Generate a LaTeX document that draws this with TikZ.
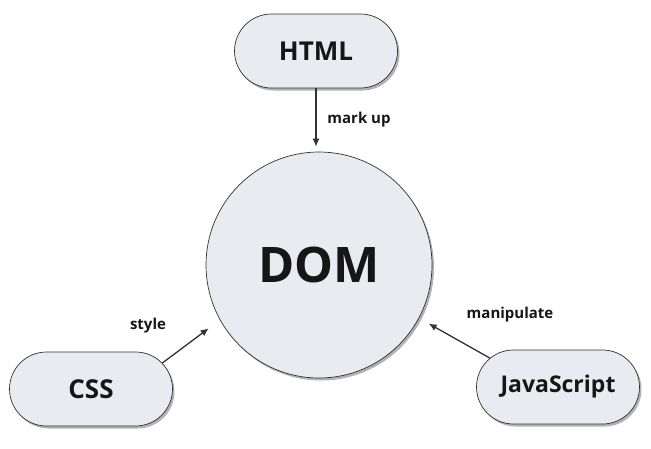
\documentclass[tikz,border=0pt]{standalone}
\usepackage{fontspec}
\setmainfont{Open Sans}
\usetikzlibrary{shapes.misc,shadows,arrows.meta}

\definecolor{boxfill}{RGB}{233,235,240}
\definecolor{boxline}{RGB}{50,50,50}
\definecolor{inktext}{RGB}{22,22,22}

\begin{document}
\begin{tikzpicture}[%
      x=1pt, y=-1pt,
      pill/.style={rounded rectangle, draw=boxline, line width=0.7pt, fill=boxfill,
        minimum width=163pt, minimum height=74pt, inner sep=0pt,
        text=inktext, font=\bfseries\fontsize{26}{30}\selectfont,
        drop shadow={shadow xshift=2pt, shadow yshift=-2.5pt, opacity=0.3, fill=black}},
      hub/.style={circle, draw=boxline, line width=0.7pt, fill=boxfill,
        minimum size=226pt, inner sep=0pt,
        text=inktext, font=\bfseries\fontsize{49}{55}\selectfont,
        drop shadow={shadow xshift=2pt, shadow yshift=-2.5pt, opacity=0.3, fill=black}},
      link/.style={-{Latex[length=8pt,width=7pt]}, line width=1.3pt, color=boxline},
      tag/.style={text=inktext, font=\bfseries\fontsize{15}{18}\selectfont},
      ]
      \useasboundingbox (0,0) rectangle (651,448);

      \node [hub]  (dom)  at (319,265) {DOM};
      \node [pill] (html) at (316,51)  {HTML};
      \node [pill] (css)  at (91,389)  {CSS};
      \node [pill, font=\bfseries\fontsize{23}{27}\selectfont] (js) at (558,387) {JavaScript};

      \draw [link, shorten >=5pt] (html.south) -- (html.south |- dom.north);
      \draw [link, shorten >=14pt] (css.20) -- (dom.209);
      \draw [link, shorten >=11pt] (js.157) -- (dom.-28);

      \node [tag] (markup) at (359,120) {mark up};
      \node [tag] (style)  at (148,326) {style};
      \node [tag] (manip)  at (510,315) {manipulate};
\end{tikzpicture}
\end{document}
